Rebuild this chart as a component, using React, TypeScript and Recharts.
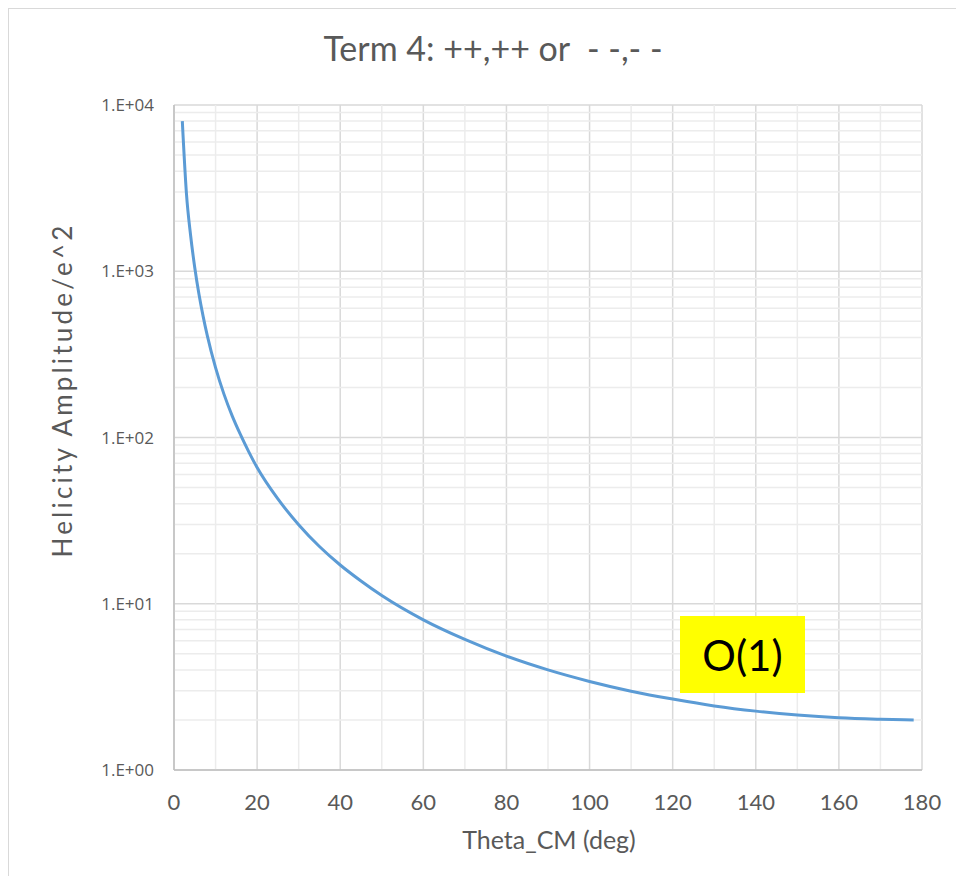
import { LineChart, Line, XAxis, YAxis, CartesianGrid, ReferenceLine } from 'recharts'

// angle (deg) and amplitude
const thetaDeg = [2, 3, 4, 5, 6, 7, 8, 10, 12, 14, 16, 18, 20, 25, 30, 35, 40, 45, 50, 60, 70, 80, 90, 100, 110, 120, 130, 140, 150, 160, 170, 178]
const amplitude = [8000, 2920, 1640, 1050, 730, 537, 411, 263, 183, 135, 104, 82, 66, 42.7, 29.9, 22.1, 17.1, 13.7, 11.2, 8.0, 6.1, 4.84, 4.0, 3.41, 2.98, 2.67, 2.43, 2.26, 2.14, 2.06, 2.02, 2.0]

const xTicks = [0, 20, 40, 60, 80, 100, 120, 140, 160, 180]
const xMinor = [10, 30, 50, 70, 90, 110, 130, 150, 170]
const yTicks = [1, 10, 100, 1000, 10000]
const yTickLabels = ['1.E+00', '1.E+01', '1.E+02', '1.E+03', '1.E+04']
const yMinor = [2, 3, 4, 5, 6, 7, 8, 9, 20, 30, 40, 50, 60, 70, 80, 90, 200, 300, 400, 500, 600, 700, 800, 900, 2000, 3000, 4000, 5000, 6000, 7000, 8000, 9000]

const FONT = 'Lato, "Open Sans", sans-serif'
const TEXT = '#595959'

export default function App() {
  const data = thetaDeg.map((t, i) => ({ theta: t, amp: amplitude[i] }))

  return (
    <div style={{ position: 'relative', width: 955, height: 867, borderLeft: '1px solid #d9d9d9', borderTop: '1px solid #d9d9d9', background: 'white', overflow: 'hidden', fontFamily: FONT }}>
      <div style={{ position: 'absolute', left: 9, width: 950, top: 18, lineHeight: '42px', textAlign: 'center', fontSize: 34, color: TEXT, whiteSpace: 'pre' }}>
        {'Term 4: ++,++ or  - -,- -'}
      </div>
      <LineChart width={955} height={867} data={data} margin={{ top: 96, right: 42, bottom: 26, left: 0 }}>
        {xMinor.map((v) => (
          <ReferenceLine key={'x' + v} x={v} stroke="#ececec" strokeWidth={1.5} />
        ))}
        {yMinor.map((v) => (
          <ReferenceLine key={'y' + v} y={v} stroke="#ececec" strokeWidth={1.5} />
        ))}
        <CartesianGrid stroke="#d9d9d9" strokeWidth={1.5} />
        <XAxis
          dataKey="theta"
          type="number"
          domain={[0, 180]}
          ticks={xTicks}
          height={80}
          tickSize={0}
          tickMargin={24}
          axisLine={{ stroke: '#bfbfbf', strokeWidth: 1.5 }}
          tick={{ fill: TEXT, fontSize: 22, fontFamily: FONT }}
        />
        <YAxis
          type="number"
          scale="log"
          domain={[1, 10000]}
          allowDataOverflow
          ticks={yTicks}
          tickFormatter={(v: number) => yTickLabels[yTicks.indexOf(v)] ?? ''}
          width={165}
          tickSize={0}
          tickMargin={20}
          axisLine={{ stroke: '#bfbfbf', strokeWidth: 1.5 }}
          tick={{ fill: TEXT, fontSize: 17, fontFamily: '"Open Sans", sans-serif' }}
        />
        <Line type="monotone" dataKey="amp" stroke="#5b9bd5" strokeWidth={3} dot={false} isAnimationActive={false} />
      </LineChart>
      <div style={{ position: 'absolute', left: 9, width: 1062, top: 815, lineHeight: '30px', textAlign: 'center', fontSize: 25, color: TEXT }}>
        Theta_CM (deg)
      </div>
      <div style={{ position: 'absolute', left: 53, top: 381, width: 0, height: 0 }}>
        <div style={{ position: 'absolute', transform: 'translate(-50%, -50%) rotate(-90deg)', whiteSpace: 'nowrap', fontSize: 26, letterSpacing: 3.2, color: TEXT }}>
          Helicity Amplitude/e^2
        </div>
      </div>
      <div style={{ position: 'absolute', left: 671, top: 607, width: 125, height: 77, background: '#ffff00', color: '#000', fontSize: 42, display: 'flex', alignItems: 'center', justifyContent: 'center' }}>
        O(1)
      </div>
    </div>
  )
}
